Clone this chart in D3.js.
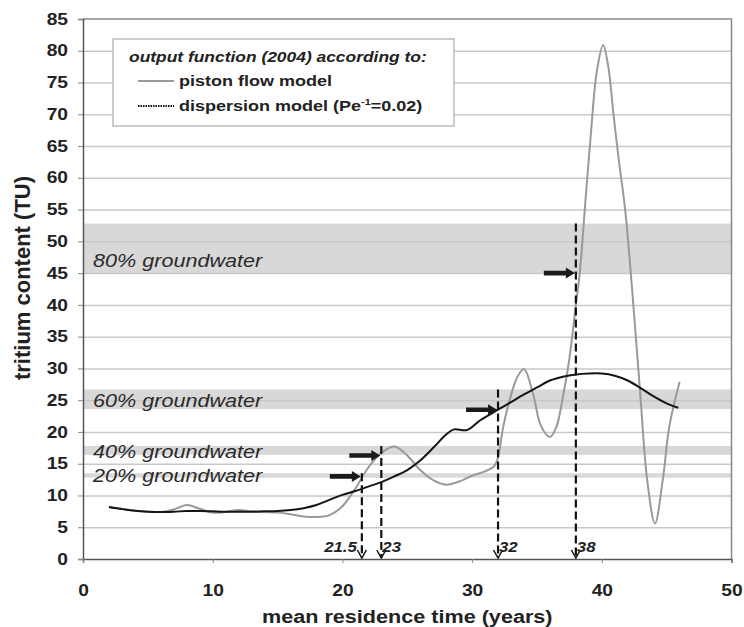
<!DOCTYPE html>
<html lang="en">
<head>
  <meta charset="utf-8">
  <title>Tritium output function</title>
  <script src="https://d3js.org/d3.v7.min.js"></script>
  <style type="text/css">
    body { margin: 0; background: #fff; }
    text { font-family: "Liberation Sans", Arial, sans-serif; fill: #222; }
  </style>
</head>
<body>
  <div id="chart"></div>
  <script type="text/javascript">
    const w = 744;
    const h = 627;

    // piston flow model (grey curve)
    const pistonYears = [2, 3, 4, 5, 6, 7, 8, 9, 10, 11, 12, 13, 14, 15, 16, 17, 18, 19, 20, 21, 22, 23, 24, 25, 26, 27, 28, 29, 30, 31, 31.7, 32, 32.4, 33, 33.5, 34, 34.7, 35.3, 36, 36.5, 37, 37.5, 38, 38.3, 38.8, 39.2, 39.6, 40.1, 40.5, 40.9, 41.3, 41.8, 42.3, 42.7, 43, 43.5, 44.1, 44.7, 45.2, 46];
    const pistonTU = [8.2, 7.9, 7.6, 7.45, 7.4, 7.8, 8.5, 7.9, 7.3, 7.4, 7.7, 7.5, 7.4, 7.3, 7.05, 6.7, 6.6, 6.9, 8.3, 11.1, 14.4, 16.7, 17.7, 16.3, 14.0, 12.4, 11.7, 12.2, 13.1, 13.8, 14.6, 16.0, 20.8, 25.8, 28.7, 29.9, 26.0, 21.0, 19.2, 20.8, 25.5, 31.5, 40.0, 45.0, 58.0, 68.0, 76.5, 80.9, 77.5, 70.0, 63.0, 55.0, 43.4, 33.0, 25.0, 12.4, 5.6, 12.4, 20.8, 27.9];

    // dispersion model (black curve)
    const dispersionYears = [2, 3, 4, 5, 6, 7, 8, 9, 10, 11, 12, 13, 14, 15, 16, 17, 18, 19, 20, 21, 22, 23, 24, 25, 26, 27, 28, 28.6, 29.6, 30.6, 32, 33, 34, 35, 36, 37, 38, 39, 40, 41, 42, 43, 44, 45, 45.9];
    const dispersionTU = [8.2, 7.85, 7.6, 7.45, 7.4, 7.45, 7.55, 7.55, 7.5, 7.45, 7.45, 7.45, 7.5, 7.55, 7.7, 8.0, 8.5, 9.3, 10.1, 10.7, 11.4, 12.1, 13.0, 14.0, 15.5, 17.5, 19.6, 20.4, 20.3, 21.8, 23.5, 24.7, 25.9, 27.0, 28.1, 28.7, 29.05, 29.2, 29.2, 28.85, 28.1, 26.9, 25.6, 24.5, 23.8];

    // groundwater bands
    const bandNames = ["80% groundwater", "60% groundwater", "40% groundwater", "20% groundwater"];
    const bandLow = [45, 23.6, 16.4, 12.8];
    const bandHigh = [52.8, 26.7, 17.8, 13.5];
    const bandLabelTU = [46, 23.9, 15.9, 12.1];

    const markYears = [21.5, 23, 32, 38];
    const markLabels = ["21.5", "23", "32", "38"];
    const markTops = [13.5, 17.8, 26.7, 52.8];
    const arrowTU = [13, 16.3, 23.5, 45];

    const xTicks = [0, 10, 20, 30, 40, 50];
    const yTicks = d3.range(0, 86, 5);

    const x = d3.scaleLinear().domain([0, 50]).range([83, 731.5]);
    const y = d3.scaleLinear().domain([0, 85]).range([559, 19]);

    const svg = d3.select("#chart").append("svg")
      .attr("width", w)
      .attr("height", h);

    // horizontally widened text, like the scanned figure
    function stretch(sel, k) {
      sel.each(function() {
        const len = this.getComputedTextLength();
        d3.select(this).attr("textLength", len * k).attr("lengthAdjust", "spacingAndGlyphs");
      });
    }

    // bands
    svg.selectAll("rect.band")
      .data(bandNames)
      .enter().append("rect")
      .attr("class", "band")
      .attr("x", x(0))
      .attr("width", x(50) - x(0))
      .attr("y", (d, i) => y(bandHigh[i]))
      .attr("height", (d, i) => y(bandLow[i]) - y(bandHigh[i]))
      .style("fill", "#d8d8d8");

    // gridlines
    svg.append("g")
      .attr("transform", "translate(" + x(0) + ",0)")
      .call(d3.axisLeft(y).tickValues(yTicks.filter(d => d > 0 && d < 85)).tickSize(-(x(50) - x(0))).tickFormat(""))
      .call(g => g.select(".domain").remove())
      .call(g => g.selectAll("line").attr("stroke", "#c9c9c9").attr("stroke-width", 1.5));

    // plot frame
    svg.append("path")
      .attr("d", `M${x(0)},${y(85)}H${x(50)}V${y(0)}`)
      .attr("fill", "none")
      .attr("stroke", "#888")
      .attr("stroke-width", 1.5);

    // band labels
    svg.selectAll("text.band-label")
      .data(bandNames)
      .enter().append("text")
      .attr("class", "band-label")
      .attr("x", 93)
      .attr("y", (d, i) => y(bandLabelTU[i]))
      .style("font-size", "18px")
      .style("font-style", "italic")
      .style("fill", "#2a2a2a")
      .text(d => d)
      .call(stretch, 1.2);

    // axes
    const leftAxis = svg.append("g")
      .attr("transform", "translate(" + x(0) + ",0)")
      .call(d3.axisLeft(y).tickValues(yTicks).tickSize(5).tickPadding(10));
    const bottomAxis = svg.append("g")
      .attr("transform", "translate(0," + y(0) + ")")
      .call(d3.axisBottom(x).tickValues(xTicks).tickSize(4).tickPadding(22));
    [leftAxis, bottomAxis].forEach(g => {
      g.select(".domain").attr("stroke", "#555").attr("stroke-width", 1.5);
      g.selectAll(".tick line").attr("stroke", "#888");
      g.selectAll(".tick text")
        .style("font-size", "16px")
        .style("font-weight", "bold")
        .style("font-family", "'Liberation Sans', Arial, sans-serif")
        .attr("fill", "#222")
        .call(stretch, 1.2);
    });

    // curves
    const line = d3.line()
      .x(d => x(d[0]))
      .y(d => y(d[1]))
      .curve(d3.curveCatmullRom.alpha(0.5));

    svg.append("path")
      .datum(pistonYears.map((t, i) => [t, pistonTU[i]]))
      .attr("d", line)
      .attr("fill", "none")
      .attr("stroke", "#999")
      .attr("stroke-width", 2);

    svg.append("path")
      .datum(dispersionYears.map((t, i) => [t, dispersionTU[i]]))
      .attr("d", line)
      .attr("fill", "none")
      .attr("stroke", "#151515")
      .attr("stroke-width", 2);

    // dashed verticals with arrow heads on the axis
    const marks = svg.selectAll("g.mark")
      .data(markYears)
      .enter().append("g")
      .attr("class", "mark");

    marks.append("line")
      .attr("x1", d => x(d))
      .attr("x2", d => x(d))
      .attr("y1", (d, i) => y(markTops[i]))
      .attr("y2", y(0) - 1)
      .attr("stroke", "#111")
      .attr("stroke-width", 2.2)
      .attr("stroke-dasharray", "8,4");

    marks.append("path")
      .attr("d", d => `M${x(d) - 4.5},${y(0) - 9}L${x(d)},${y(0) - 1}L${x(d) + 4.5},${y(0) - 9}`)
      .attr("fill", "none")
      .attr("stroke", "#111")
      .attr("stroke-width", 1.5);

    marks.append("text")
      .attr("x", (d, i) => i === 0 ? x(d) - 5 : x(d) + 1)
      .attr("y", y(0) - 7)
      .style("text-anchor", (d, i) => i === 0 ? "end" : "start")
      .style("font-size", "14px")
      .style("font-weight", "bold")
      .style("font-style", "italic")
      .text((d, i) => markLabels[i])
      .call(stretch, 1.2);

    // horizontal arrows pointing at the band crossings
    marks.append("path")
      .attr("d", (d, i) => {
        const x1 = x(d) - 1, x0 = x1 - 31, yy = y(arrowTU[i]);
        return `M${x0},${yy - 2.3}H${x1 - 9}V${yy - 5.5}L${x1},${yy}L${x1 - 9},${yy + 5.5}V${yy + 2.3}H${x0}Z`;
      })
      .attr("fill", "#1a1a1a");

    // legend
    const legend = svg.append("g");
    legend.append("rect")
      .attr("x", 113).attr("y", 39)
      .attr("width", 341).attr("height", 87)
      .attr("fill", "#fff")
      .attr("stroke", "#bbb")
      .attr("stroke-width", 1.5);
    legend.append("text")
      .attr("x", 129).attr("y", 62)
      .style("font-size", "14.5px")
      .style("font-weight", "bold")
      .style("font-style", "italic")
      .text("output function (2004) according to:")
      .call(stretch, 1.2);
    legend.append("line")
      .attr("x1", 138).attr("x2", 174).attr("y1", 81).attr("y2", 81)
      .attr("stroke", "#999").attr("stroke-width", 2);
    legend.append("text")
      .attr("x", 179).attr("y", 86)
      .style("font-size", "15px")
      .style("font-weight", "bold")
      .text("piston flow model")
      .call(stretch, 1.2);
    legend.append("line")
      .attr("x1", 138).attr("x2", 174).attr("y1", 106).attr("y2", 106)
      .attr("stroke", "#111").attr("stroke-width", 2).attr("stroke-dasharray", "1.5,1");
    const disp = legend.append("text")
      .attr("x", 179).attr("y", 111)
      .style("font-size", "15px")
      .style("font-weight", "bold");
    disp.append("tspan").text("dispersion model (Pe");
    disp.append("tspan").attr("dy", -6).style("font-size", "9px").text("-1");
    disp.append("tspan").attr("dy", 6).text("=0.02)");
    disp.call(stretch, 1.2);

    // axis titles
    svg.append("text")
      .attr("x", x(25))
      .attr("y", 623)
      .style("text-anchor", "middle")
      .style("font-size", "18px")
      .style("font-weight", "bold")
      .text("mean residence time (years)")
      .call(stretch, 1.2);

    svg.append("text")
      .attr("transform", "translate(30,278) rotate(-90)")
      .style("text-anchor", "middle")
      .style("font-size", "22px")
      .style("font-weight", "bold")
      .text("tritium content (TU)");
  </script>
</body>
</html>
